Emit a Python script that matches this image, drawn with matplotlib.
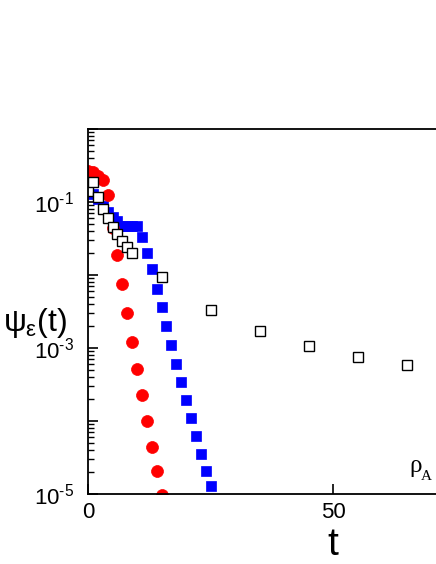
import numpy as np
import matplotlib
matplotlib.use("Agg")
import matplotlib.pyplot as plt
from matplotlib.ticker import LogLocator, FixedLocator, NullFormatter

plt.rcParams['font.family'] = ['Liberation Sans', 'DejaVu Sans']
plt.rcParams['mathtext.fontset'] = 'custom'
plt.rcParams['mathtext.rm'] = 'Liberation Sans'
plt.rcParams['mathtext.it'] = 'Liberation Sans'
plt.rcParams['mathtext.sf'] = 'Liberation Sans'

# donnees (log10 de psi)
t_red = [0, 1, 2, 3, 4, 5, 6, 7, 8, 9, 10, 11, 12, 13, 14, 15]
log_red = [-0.574, -0.592, -0.64, -0.693, -0.904, -1.35, -1.724, -2.127, -2.526,
           -2.911, -3.282, -3.649, -4.001, -4.350, -4.680, -5.01]

t_blue = [0, 1, 2, 3, 4, 5, 6, 7, 8, 9, 10, 11, 12, 13, 14, 15, 16, 17, 18, 19,
          20, 21, 22, 23, 24, 25]
log_blue = [-0.849, -0.890, -0.959, -1.051, -1.138, -1.206, -1.261, -1.326, -1.326,
            -1.326, -1.326, -1.477, -1.701, -1.914, -2.186, -2.439, -2.700, -2.956,
            -3.213, -3.470, -3.718, -3.965, -4.207, -4.446, -4.684, -4.890]

t_open = [0, 1, 2, 3, 4, 5, 6, 7, 8, 9, 15, 25, 35, 45, 55, 65]
log_open = [-0.856, -0.729, -0.935, -1.096, -1.224, -1.340, -1.440, -1.532, -1.623,
            -1.705, -2.021, -2.485, -2.769, -2.966, -3.117, -3.231]

fig = plt.figure(figsize=(4.36, 5.64), dpi=100)
# l'axe continue au-dela du bord droit (figure coupee)
ax = fig.add_axes([88 / 436, 70 / 564, 490 / 436, 365 / 564])

ax.plot(t_blue, 10 ** np.array(log_blue), 's', color='#0000ff', ms=7.2, mec='#0000ff', mew=0.5)
ax.plot(t_red, 10 ** np.array(log_red), 'o', color='#ff0000', ms=8.6, mec='#ff0000', mew=0.5)
ax.plot(t_open, 10 ** np.array(log_open), 's', mfc='white', mec='black', ms=7.2, mew=1.0)

ax.set_yscale('log')
ax.set_xlim(0, 100)
ax.set_ylim(1e-5, 1)

ax.xaxis.set_major_locator(FixedLocator([0, 50]))
ax.set_xticklabels(['0', '50'])
ax.yaxis.set_major_locator(FixedLocator([1e-5, 1e-4, 1e-3, 1e-2, 1e-1, 1]))
ax.set_yticklabels([r'$10^{\text{-}5}$', '', r'$10^{\text{-}3}$', '', r'$10^{\text{-}1}$', ''])
ax.yaxis.set_minor_locator(LogLocator(base=10, subs=np.arange(2, 10)))
ax.yaxis.set_minor_formatter(NullFormatter())

ax.tick_params(axis='both', which='major', direction='in', length=7, width=1.2,
               labelsize=16, pad=6)
ax.tick_params(axis='y', which='major', pad=10)
ax.tick_params(axis='y', which='minor', direction='in', length=4, width=1)
for s in ax.spines.values():
    s.set_linewidth(1.3)

ax.set_xlabel('t', fontsize=28)
ax.xaxis.set_label_coords(0.5, (494 - 563) / 365)
ax.xaxis.label.set_verticalalignment('bottom')

ax.set_ylabel(r'$\psi_{\epsilon}(t)$', fontsize=23, rotation=0, ha='center', va='center')
ax.yaxis.set_label_coords(-0.108, 0.468)

# rho_A en bas a droite
ax.text((409 - 88) / 490, (494 - 472) / 365, 'ρ', transform=ax.transAxes, fontsize=18,
        family='Liberation Serif', ha='left', va='baseline')
ax.text((421 - 88) / 490, (494 - 480) / 365, 'A', transform=ax.transAxes, fontsize=11,
        family='Liberation Serif', ha='left', va='baseline')

fig.savefig('out.png', dpi=100)
